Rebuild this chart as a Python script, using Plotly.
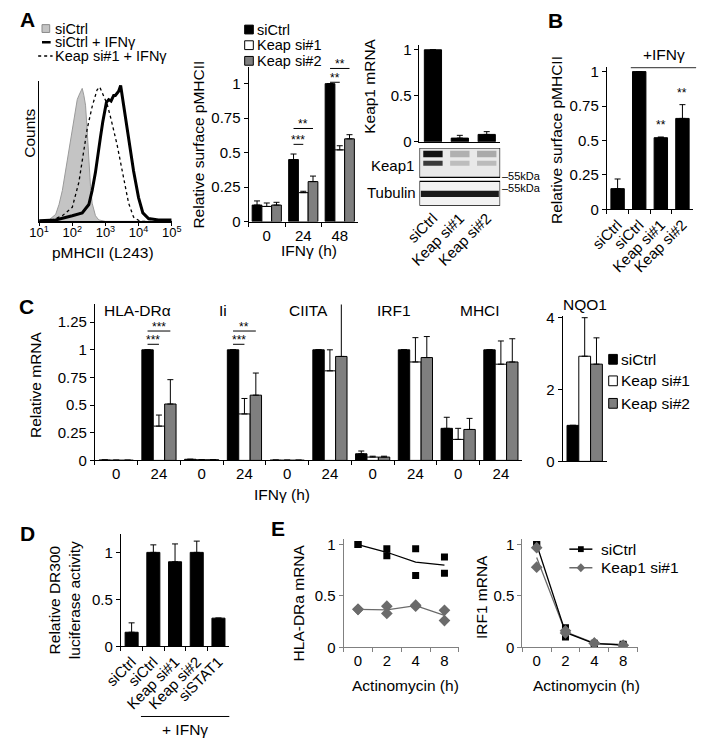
import plotly.graph_objects as go

W, H = 709, 747
FONT = "Liberation Sans, Arial, Helvetica, sans-serif"
TICK = 15
TITLE = 15.5
LEG = 15.5
LEG_A = 14.5

# ---------------- data ----------------
# Panel A - flow cytometry histograms (log10 pMHCII intensity, normalised counts)
hist_siCtrl_log = [1.0, 1.3, 1.5, 1.6, 1.7, 1.8, 1.9, 2.0, 2.1, 2.15, 2.2, 2.25, 2.3, 2.35, 2.4, 2.45, 2.5, 2.55, 2.6, 2.7, 2.8, 3.0, 5.0]
hist_siCtrl_cnt = [0.0, 0.01, 0.05, 0.12, 0.22, 0.36, 0.5, 0.64, 0.78, 0.87, 0.9, 0.93, 0.95, 0.9, 0.83, 0.65, 0.43, 0.25, 0.13, 0.04, 0.01, 0.0, 0.0]
hist_ifn_log = [1.0, 1.5, 2.0, 2.3, 2.5, 2.6, 2.7, 2.77, 2.85, 2.92, 3.03, 3.1, 3.17, 3.25, 3.3, 3.4, 3.46, 3.55, 3.7, 3.85, 4.0, 4.13, 4.3, 4.6, 5.0]
hist_ifn_cnt = [0.005, 0.01, 0.04, 0.06, 0.12, 0.22, 0.35, 0.48, 0.6, 0.71, 0.85, 0.87, 0.86, 0.9, 0.9, 0.93, 0.97, 0.83, 0.6, 0.36, 0.17, 0.06, 0.02, 0.01, 0.01]
hist_keap_log = [1.0, 1.4, 1.7, 2.0, 2.2, 2.3, 2.45, 2.6, 2.75, 2.83, 2.9, 2.97, 3.05, 3.17, 3.35, 3.55, 3.7, 3.85, 4.05, 5.0]
hist_keap_cnt = [0.0, 0.01, 0.04, 0.1, 0.28, 0.43, 0.66, 0.82, 0.94, 0.96, 0.92, 0.89, 0.84, 0.73, 0.55, 0.31, 0.13, 0.03, 0.0, 0.0]
hist_ticks = [10, 100, 1000, 10000, 100000]
hist_ticktext = ["10<sup>1</sup>", "10<sup>2</sup>", "10<sup>3</sup>", "10<sup>4</sup>", "10<sup>5</sup>"]

# Panel A - relative surface pMHCII over IFNγ time course
a_times = ["0", "24", "48"]
a_siCtrl = [0.12, 0.45, 1.0]
a_siCtrl_err = [0.03, 0.04, None]
a_keap1 = [0.11, 0.21, 0.52]
a_keap1_err = [0.025, 0.01, 0.03]
a_keap2 = [0.12, 0.29, 0.60]
a_keap2_err = [0.02, 0.04, 0.03]

# Panel A - Keap1 mRNA knock-down
k_lanes = ["siCtrl", "Keap si#1", "Keap si#2"]
k_mrna = [1.0, 0.04, 0.08]
k_err = [None, 0.03, 0.03]

# Panel B
b_cats = ["siCtrl", "siCtrl\u200b", "Keap si#1", "Keap si#2"]
b_vals = [0.15, 1.0, 0.52, 0.66]
b_err = [0.07, None, 0.005, 0.10]

# Panel C
c_genes = ["HLA-DRα", "Ii", "CIITA", "IRF1", "MHCI"]
c_times = ["0", "24"]
c_siCtrl = [0.004, 1.0, 0.01, 1.0, 0.003, 1.0, 0.06, 1.0, 0.29, 1.0]
c_siCtrl_err = [None, None, None, None, None, None, 0.025, None, 0.10, None]
c_keap1 = [0.002, 0.31, 0.006, 0.42, 0.002, 0.81, 0.03, 0.89, 0.19, 0.87]
c_keap1_err = [None, 0.10, None, 0.14, None, 0.19, 0.008, 0.22, 0.10, 0.21]
c_keap2 = [0.002, 0.51, 0.006, 0.59, 0.002, 0.94, 0.03, 0.93, 0.28, 0.89]
c_keap2_err = [None, 0.22, None, 0.20, None, 0.48, 0.008, 0.19, 0.10, 0.21]
nqo1_vals = [1.0, 2.92, 2.70]
nqo1_err = [None, 1.07, 0.73]

# Panel D
d_cats = ["siCtrl", "siCtrl\u200b", "Keap si#1", "Keap si#2", "siSTAT1"]
d_vals = [0.15, 1.0, 0.90, 1.0, 0.30]
d_err = [0.10, 0.08, 0.19, 0.12, None]

# Panel E - Actinomycin chase (two replicates per time point)
e_times = ["0", "2", "4", "8"]
e_rep_x = ["0", "0", "2", "2", "4", "4", "8", "8"]
e_hla_ctrl = [1.0, 1.0, 0.96, 0.89, 0.96, 0.70, 0.88, 0.72]
e_hla_keap = [0.37, 0.37, 0.40, 0.33, 0.41, 0.40, 0.36, 0.26]
e_irf_ctrl = [1.0, 1.0, 0.19, 0.10, 0.03, 0.04, 0.02, 0.03]
e_irf_keap = [0.97, 0.78, 0.16, 0.14, 0.04, 0.04, 0.02, 0.02]

# ---------------- styling helpers ----------------
BLACK, WHITE, GRAY = "#000000", "#ffffff", "#7f7f7f"
EGRAY = "#6b6b6b"
BARGAP = 0.2
GW = (1 - BARGAP) / 3  # width of one bar in a 3-bar group


def xdom(a, b):
    return [a / W, b / W]


def ydom(zero_px, unit_px, rmax):
    return [1 - zero_px / H, 1 - (zero_px - unit_px * rmax) / H]


def mean_pairs(vals):
    return [(vals[i] + vals[i + 1]) / 2 for i in range(0, len(vals), 2)]


def err(arr):
    return dict(type="data", array=arr, arrayminus=[0] * len(arr), symmetric=False,
                color="black", thickness=1, width=3)


def bar(x, y, e, color, n, width=None):
    return go.Bar(x=x, y=y, marker=dict(color=color, line=dict(color="black", width=1)),
                  error_y=err(e), xaxis="x" + n, yaxis="y" + n, showlegend=False,
                  width=width, hoverinfo="skip")


AX = dict(showline=True, linecolor="black", linewidth=1, showgrid=False, zeroline=False,
          ticks="outside", ticklen=4, tickcolor="black", tickfont=dict(size=TICK, color="black"),
          fixedrange=True)


def yax(n, dom, rmax, dtick, **kw):
    d = dict(AX)
    d.update(domain=dom, range=[0, rmax], dtick=dtick, tick0=0, anchor="x" + n)
    d.update(kw)
    return d


def xcat(n, dom, cats, **kw):
    d = dict(AX)
    d.update(domain=dom, type="category", categoryorder="array", categoryarray=cats,
             range=[-0.5, len(cats) - 0.5], tickson="boundaries", anchor="y" + n)
    d.update(kw)
    return d


fig = go.Figure()

# ---- A: histograms ----
fig.add_trace(go.Scatter(x=[10 ** v for v in hist_siCtrl_log], y=hist_siCtrl_cnt, mode="lines",
                         fill="tozeroy", fillcolor="#c4c4c4", line=dict(color="#9a9a9a", width=1),
                         xaxis="x", yaxis="y", showlegend=False, hoverinfo="skip"))
fig.add_trace(go.Scatter(x=[10 ** v for v in hist_keap_log], y=hist_keap_cnt, mode="lines",
                         line=dict(color="black", width=1.3, dash="dot"),
                         xaxis="x", yaxis="y", showlegend=False, hoverinfo="skip"))
fig.add_trace(go.Scatter(x=[10 ** v for v in hist_ifn_log], y=hist_ifn_cnt, mode="lines",
                         line=dict(color="black", width=3),
                         xaxis="x", yaxis="y", showlegend=False, hoverinfo="skip"))

# ---- A: bar time course ----
fig.add_trace(bar(a_times, a_siCtrl, a_siCtrl_err, BLACK, "2"))
fig.add_trace(bar(a_times, a_keap1, a_keap1_err, WHITE, "2"))
fig.add_trace(bar(a_times, a_keap2, a_keap2_err, GRAY, "2"))

# ---- A: Keap1 mRNA ----
fig.add_trace(bar(k_lanes, k_mrna, k_err, BLACK, "3", width=0.64))
# western blot lane axis (labels only)
fig.add_trace(go.Scatter(x=[0, 1, 2], y=[None, None, None], xaxis="x4", yaxis="y4",
                         showlegend=False, hoverinfo="skip"))

# ---- B ----
fig.add_trace(bar(b_cats, b_vals, b_err, BLACK, "5", width=0.62))

# ---- C ----
c_x = [t + "\u200b" * g for g in range(len(c_genes)) for t in c_times]
fig.add_trace(bar(c_x, c_siCtrl, c_siCtrl_err, BLACK, "6"))
fig.add_trace(bar(c_x, c_keap1, c_keap1_err, WHITE, "6"))
fig.add_trace(bar(c_x, c_keap2, c_keap2_err, GRAY, "6"))
nq = ["NQO1"]
fig.add_trace(bar(nq, nqo1_vals[0:1], nqo1_err[0:1], BLACK, "7"))
fig.add_trace(bar(nq, nqo1_vals[1:2], nqo1_err[1:2], WHITE, "7"))
fig.add_trace(bar(nq, nqo1_vals[2:3], nqo1_err[2:3], GRAY, "7"))

# ---- D ----
fig.add_trace(bar(d_cats, d_vals, d_err, BLACK, "8", width=0.6))

# ---- E ----
for n, ctrl, keap in (("9", e_hla_ctrl, e_hla_keap), ("10", e_irf_ctrl, e_irf_keap)):
    fig.add_trace(go.Scatter(x=e_times, y=mean_pairs(keap), mode="lines",
                             line=dict(color=EGRAY, width=1.3), xaxis="x" + n, yaxis="y" + n,
                             showlegend=False, hoverinfo="skip"))
    fig.add_trace(go.Scatter(x=e_times, y=mean_pairs(ctrl), mode="lines",
                             line=dict(color="black", width=1.3), xaxis="x" + n, yaxis="y" + n,
                             showlegend=False, hoverinfo="skip"))
    fig.add_trace(go.Scatter(x=e_rep_x, y=ctrl, mode="markers",
                             marker=dict(symbol="square", size=7, color="black"),
                             xaxis="x" + n, yaxis="y" + n, showlegend=False, hoverinfo="skip"))
    fig.add_trace(go.Scatter(x=e_rep_x, y=keap, mode="markers",
                             marker=dict(symbol="diamond", size=9, color=EGRAY),
                             xaxis="x" + n, yaxis="y" + n, showlegend=False, hoverinfo="skip"))

# ---------------- axes ----------------
lay = dict(
    width=W, height=H, autosize=False, margin=dict(l=0, r=0, t=0, b=0),
    paper_bgcolor="white", plot_bgcolor="white",
    font=dict(family=FONT, size=TICK, color="black"),
    barmode="group", bargap=BARGAP, bargroupgap=0, showlegend=False,
)
# A hist
lay["xaxis"] = dict(AX, domain=xdom(22, 160), type="log", range=[1, 5], tickvals=hist_ticks,
                    ticktext=hist_ticktext, anchor="y", linewidth=1.5, ticklen=3,
                    ticklabelstandoff=-4, tickfont=dict(size=13, color="black"))
lay["yaxis"] = dict(AX, domain=ydom(218, 143, 1.0), range=[0, 1.0], ticks="", showticklabels=False,
                    anchor="x", linewidth=1.5)
# A bars
lay["xaxis2"] = xcat("2", xdom(240, 354), a_times)
lay["yaxis2"] = yax("2", ydom(218.3, 141, 1.12), 1.12, 0.25)
# Keap1 mRNA
lay["xaxis3"] = xcat("3", xdom(418, 502), k_lanes, ticks="", showticklabels=False)
lay["yaxis3"] = yax("3", ydom(136.7, 94, 1.05), 1.05, 0.5)
# blot
lay["xaxis4"] = dict(domain=xdom(418, 502), range=[-0.5, 2.5], tickvals=[0, 1, 2], ticktext=k_lanes,
                     tickangle=-45, ticks="", showline=False, showgrid=False, zeroline=False,
                     anchor="y4", tickfont=dict(size=TICK), fixedrange=True)
lay["yaxis4"] = dict(domain=[1 - 202 / H, 1 - 143 / H], range=[0, 1], visible=False, anchor="x4",
                     fixedrange=True)
# B
lay["xaxis5"] = xcat("5", xdom(613, 703), b_cats, tickangle=-45)
lay["yaxis5"] = yax("5", ydom(205.7, 140.7, 1.035), 1.035, 0.25)
# C
lay["xaxis6"] = xcat("6", xdom(80, 525), c_x)
lay["yaxis6"] = yax("6", ydom(462.3, 113, 1.41), 1.41, 0.25)
lay["xaxis7"] = xcat("7", xdom(567, 613), nq, ticks="", showticklabels=False)
lay["yaxis7"] = yax("7", ydom(463.3, 36.8, 4.03), 4.03, 2)
# D
lay["xaxis8"] = xcat("8", xdom(107, 220), d_cats, tickangle=-45)
lay["yaxis8"] = yax("8", ydom(652.3, 96, 1.2), 1.2, 0.5)
# E
for n, (a, b) in (("9", (339, 459)), ("10", (525, 645))):
    lay["xaxis" + n] = xcat(n, xdom(a, b), e_times, linecolor="#808080", tickcolor="#808080")
    lay["yaxis" + n] = yax(n, ydom(653.3, 105, 1.05), 1.05, 0.5, linecolor="#808080",
                           tickcolor="#808080")

# ---------------- annotations & shapes ----------------
ann, shapes = [], []


def txt(x, y, s, size=TITLE, xanchor="center", yanchor="middle", angle=0, bold=False):
    if bold:
        s = "<b>" + s + "</b>"
    ann.append(dict(x=x / W, y=1 - y / H, xref="paper", yref="paper", text=s, showarrow=False,
                    font=dict(size=size, color="black"), xanchor=xanchor, yanchor=yanchor,
                    textangle=angle, borderpad=0))


def pline(x0, y0, x1, y1, color="black", width=1, dash=None):
    shapes.append(dict(type="line", xref="paper", yref="paper", x0=x0 / W, y0=1 - y0 / H,
                       x1=x1 / W, y1=1 - y1 / H, line=dict(color=color, width=width, dash=dash)))


def prect(x0, y0, x1, y1, fill, line="black", lw=1):
    shapes.append(dict(type="rect", xref="paper", yref="paper", x0=x0 / W, y0=1 - y0 / H,
                       x1=x1 / W, y1=1 - y1 / H, fillcolor=fill, line=dict(color=line, width=lw)))


def sig(n, x0, x1, y, s):
    shapes.append(dict(type="line", xref="x" + n, yref="y" + n, x0=x0, x1=x1, y0=y, y1=y,
                       line=dict(color="black", width=1)))
    ann.append(dict(x=(x0 + x1) / 2, y=y, xref="x" + n, yref="y" + n, text=s, showarrow=False,
                    font=dict(size=12), yanchor="bottom", yshift=-4, borderpad=0))


# panel letters
txt(1, 12, "A", size=21, xanchor="left", bold=True)
txt(551, 13, "B", size=21, xanchor="left", bold=True)
txt(0, 305, "C", size=21, xanchor="left", bold=True)
txt(1, 537, "D", size=21, xanchor="left", bold=True)
txt(262, 532, "E", size=21, xanchor="left", bold=True)

# A hist legend + titles
prect(25, 17, 33, 25, "#c4c4c4", line="#8a8a8a")
txt(37, 21, "siCtrl", size=LEG_A, xanchor="left")
pline(25, 35, 34, 35, width=2.5)
txt(37, 35, "siCtrl + IFNγ", size=LEG_A, xanchor="left")
pline(21, 49, 36, 49, width=1.5, dash="dot")
txt(37, 49, "Keap si#1 + IFNγ", size=LEG_A, xanchor="left")
txt(12, 128, "Counts", angle=-90)
txt(88, 250, "pMHCII (L243)")

# A bars legend + titles
for i, (lab, col) in enumerate((("siCtrl", BLACK), ("Keap si#1", WHITE), ("Keap si#2", GRAY))):
    yy = [22, 38, 54][i]
    prect(236, yy - 4.5, 245, yy + 4.5, col)
    txt(248, yy, lab, size=LEG_A, xanchor="left")
txt(187, 140, "Relative surface pMHCII", angle=-90)
txt(303, 248, "IFNγ (h)")
sig("2", 1 - GW, 1, 0.56, "***")
sig("2", 1 - GW, 1 + GW, 0.675, "**")
sig("2", 2 - GW, 2, 1.01, "**")
sig("2", 2 - GW, 2 + GW, 1.11, "**")

# Keap1 mRNA + blot
txt(366, 80, "Keap1 mRNA", angle=-90)
txt(413, 161, "Keap1", size=TICK, xanchor="right")
txt(415, 189, "Tubulin", size=TICK, xanchor="right")
txt(503, 172, "–55kDa", size=11, xanchor="left")
txt(503, 184, "–55kDa", size=11, xanchor="left")


def blot(x0, x1, y0, y1, fill, lw=1, line="black"):
    shapes.append(dict(type="rect", xref="x4", yref="y4", x0=x0, x1=x1, y0=y0, y1=y1,
                       fillcolor=fill, line=dict(color=line, width=lw)))


blot(-0.5, 2.5, 0.49, 1.0, "#e9e9e9", lw=1.2)
blot(-0.5, 2.5, 0.0, 0.42, "#f2f2f2", lw=1.2)
for lane, (c1, c2) in enumerate((("#111111", "#3a3a3a"), ("#b0b0b0", "#bdbdbd"), ("#aaaaaa", "#bbbbbb"))):
    blot(lane - 0.36, lane + 0.36, 0.84, 0.95, c1, lw=0)
    blot(lane - 0.36, lane + 0.36, 0.69, 0.78, c2, lw=0)
blot(-0.45, 2.45, 0.15, 0.26, "#1a1a1a", lw=0)

# B
txt(560, 135, "Relative surface pMHCII", angle=-90)
pline(638, 61, 706, 61, color="#555555", width=1.2)
txt(673, 48, "+IFNγ")
ann.append(dict(x=2, y=0.545, xref="x5", yref="y5", text="**", showarrow=False,
                font=dict(size=12), yanchor="bottom"))
ann.append(dict(x=3, y=0.78, xref="x5", yref="y5", text="**", showarrow=False,
                font=dict(size=12), yanchor="bottom"))

# C
txt(18, 385, "Relative mRNA", angle=-90)
txt(275, 497, "IFNγ (h)")
for g, name in enumerate(c_genes):
    ann.append(dict(x=2 * g + 0.5, y=1 - 309 / H, xref="x6", yref="paper", text=name, showarrow=False,
                    font=dict(size=TITLE), yanchor="middle"))
txt(590, 303, "NQO1")
sig("6", 1 - GW, 1, 1.05, "***")
sig("6", 1 - GW, 1 + GW, 1.17, "***")
sig("6", 3 - GW, 3, 1.05, "***")
sig("6", 3 - GW, 3 + GW, 1.17, "**")
for i, (lab, col) in enumerate((("siCtrl", BLACK), ("Keap si#1", WHITE), ("Keap si#2", GRAY))):
    yy = [359, 381, 404][i]
    prect(615, yy - 5, 624, yy + 5, col)
    txt(627, yy, lab, size=LEG, xanchor="left")

# D
txt(48, 605, "Relative DR300<br>luciferase activity", angle=-90)
pline(128, 724, 220, 724)
txt(174, 737, "+ IFNγ")

# E
txt(293, 608, "HLA-DRa mRNA", angle=-90)
txt(482, 602, "IRF1 mRNA", angle=-90)
txt(403, 692, "Actinomycin (h)")
txt(592, 692, "Actinomycin (h)")
pline(574, 553, 598, 553, width=1.5)
prect(583, 550, 589, 556, "black", lw=0)
txt(606, 553, "siCtrl", size=LEG, xanchor="left")
pline(574, 572, 598, 572, color=EGRAY, width=1.5)
shapes.append(dict(type="path", xref="paper", yref="paper",
                   path="M {} {} L {} {} L {} {} L {} {} Z".format(586 / W, 1 - 567.5 / H, 590.5 / W, 1 - 572 / H,
                                                                   586 / W, 1 - 576.5 / H, 581.5 / W, 1 - 572 / H),
                   fillcolor=EGRAY, line=dict(width=0)))
txt(606, 572, "Keap1 si#1", size=LEG, xanchor="left")

lay["annotations"] = ann
lay["shapes"] = shapes
fig.update_layout(**lay)

fig.write_html("out.html", include_plotlyjs=True, full_html=True,
               config={"displayModeBar": False, "staticPlot": True})

with open("out.html", "r", encoding="utf-8") as f:
    html = f.read()
html = html.replace("<head>", "<head><style>html,body{margin:0;padding:0;overflow:hidden;}</style>", 1)
with open("out.html", "w", encoding="utf-8") as f:
    f.write(html)
